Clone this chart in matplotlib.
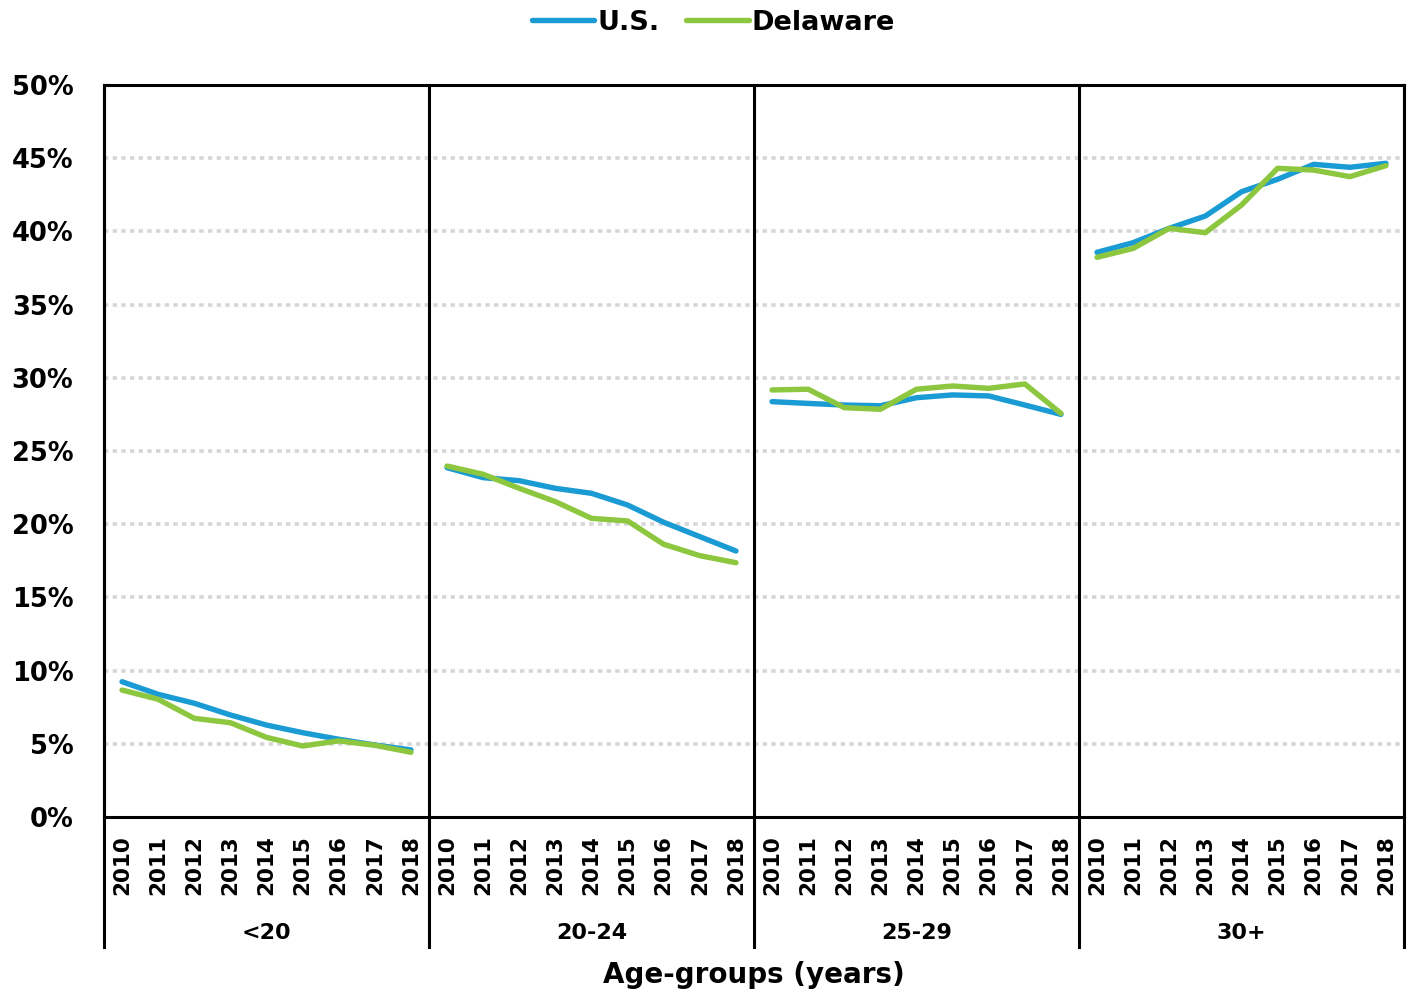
import matplotlib.pyplot as plt
from matplotlib import transforms

# values (percent)
years = ['2010', '2011', '2012', '2013', '2014', '2015', '2016', '2017', '2018']
groups = ['<20', '20-24', '25-29', '30+']

us = [
    [9.24, 8.38, 7.77, 6.97, 6.28, 5.76, 5.31, 4.92, 4.58],
    [23.86, 23.18, 22.97, 22.45, 22.11, 21.31, 20.13, 19.15, 18.17],
    [28.37, 28.25, 28.14, 28.09, 28.64, 28.83, 28.76, 28.14, 27.50],
    [38.57, 39.23, 40.21, 41.05, 42.71, 43.56, 44.58, 44.38, 44.65],
]
delaware = [
    [8.67, 8.04, 6.74, 6.44, 5.44, 4.85, 5.20, 4.90, 4.42],
    [23.97, 23.41, 22.45, 21.54, 20.40, 20.22, 18.63, 17.85, 17.37],
    [29.17, 29.22, 27.96, 27.85, 29.22, 29.44, 29.28, 29.58, 27.57],
    [38.23, 38.84, 40.21, 39.91, 41.80, 44.31, 44.19, 43.74, 44.49],
]

blue = '#1B9BD3'
green = '#8DC63F'

plt.rcParams['font.family'] = 'DejaVu Sans'
plt.rcParams['font.weight'] = 'bold'

fig = plt.figure(figsize=(14.1, 9.93), dpi=100)
ax = fig.add_axes([104 / 1410, 176 / 993, 1300 / 1410, 732 / 993])

n = len(years)
for g in range(len(groups)):
    xs = [g * n + i for i in range(n)]
    ax.plot(xs, us[g], color=blue, lw=3.9, solid_capstyle='round',
            label='U.S.' if g == 0 else None, zorder=3)
    ax.plot(xs, delaware[g], color=green, lw=3.9, solid_capstyle='round',
            label='Delaware' if g == 0 else None, zorder=3)

ax.set_xlim(-0.5, len(groups) * n - 0.5)
ax.set_ylim(0, 50)
ax.set_yticks(range(0, 51, 5))
ax.set_yticklabels([f'{v}%' for v in range(0, 51, 5)], fontsize=18.5, fontweight='bold')
ax.set_xticks(range(len(groups) * n))
ax.set_xticklabels(years * len(groups), rotation=90, fontsize=15.5, fontweight='bold')
ax.tick_params(axis='x', length=0, pad=13)
ax.tick_params(axis='y', length=0, pad=22)

for y in range(5, 50, 5):
    ax.axhline(y, color='#D6D6D6', lw=2.6, ls=(0, (1.2, 1.2)), zorder=1)

for s in ax.spines.values():
    s.set_color('black')
    s.set_linewidth(2.2)

# group separators reaching down through the category labels
trans = transforms.blended_transform_factory(ax.transData, ax.transAxes)
for k in range(len(groups) + 1):
    x = k * n - 0.5
    ax.plot([x, x], [-0.178, 1], color='black', lw=2.2, transform=trans,
            clip_on=False, zorder=4)

for g, name in enumerate(groups):
    ax.text(g * n + (n - 1) / 2, -0.158, name, transform=trans, ha='center',
            va='center', fontsize=16, fontweight='bold')

ax.text(0.5, -0.216, 'Age-groups (years)', transform=ax.transAxes, ha='center',
        va='center', fontsize=20, fontweight='bold')

fig.legend(loc='center', bbox_to_anchor=(0.506, 0.977), ncol=2, frameon=False,
           handlelength=2.3, handletextpad=0.1, columnspacing=1.0,
           prop={'size': 19.5, 'weight': 'bold'})

fig.savefig('out.png', dpi=100)
